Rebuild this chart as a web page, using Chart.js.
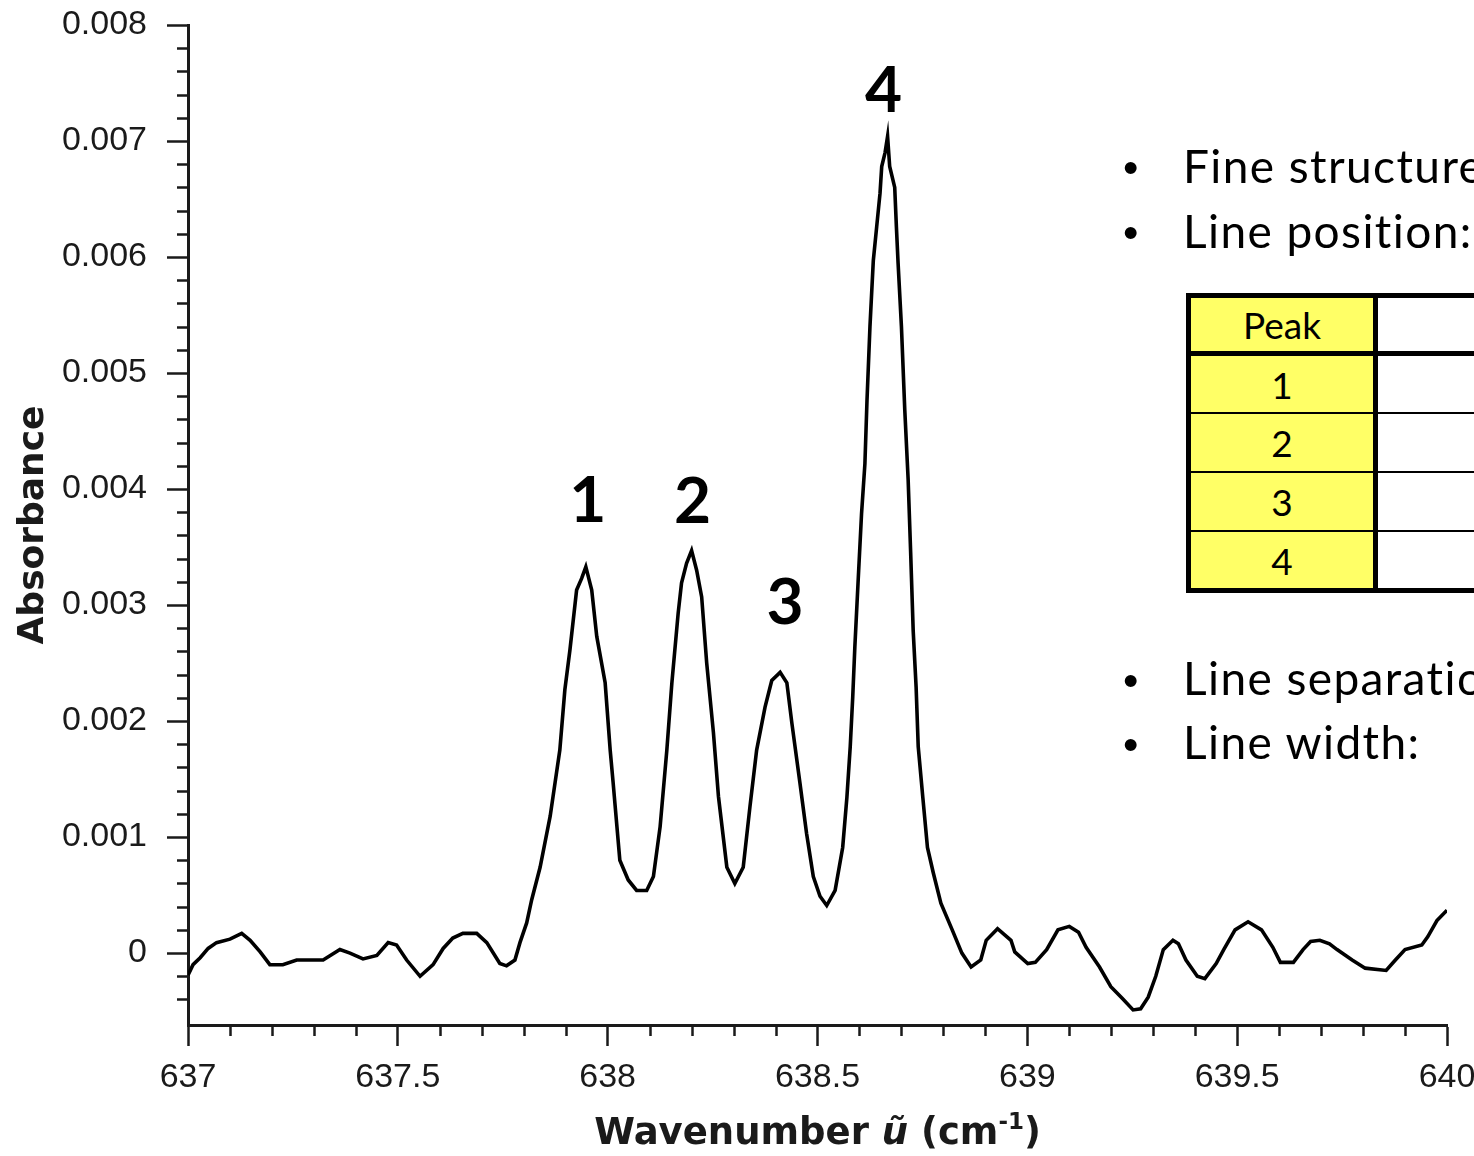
<!DOCTYPE html>
<html>
<head>
<meta charset="utf-8">
<script src="https://cdn.jsdelivr.net/npm/chart.js@4.4.1/dist/chart.umd.min.js"></script>
<style>
  html, body { margin: 0; padding: 0; background: #fff; width: 1474px; height: 1156px; overflow: hidden; }
  #slide { position: relative; width: 1474px; height: 1156px; overflow: hidden; background: #fff; }
  #spectrum { position: absolute; left: 0; top: 0; }
  .bullet, .point { position: absolute; white-space: nowrap; color: #000; line-height: 44px; }
  .bullet { font-family: Arial, "Liberation Sans", sans-serif; font-size: 44px; }
  .point { font-family: Lato, "Open Sans", sans-serif; font-size: 46px; letter-spacing: 1.4px; }
  #peaks { position: absolute; left: 1186px; top: 293px; border: 5px solid #000; width: 600px; background: #fff; }
  #peaks .row { display: flex; box-sizing: border-box; border-bottom: 2px solid #000; }
  #peaks .row.head { border-bottom-width: 5px; }
  #peaks .row:last-child { border-bottom: none; }
  #peaks .cell { box-sizing: border-box; width: 187px; border-right: 5px solid #000; background: #ffff66;
                 display: flex; align-items: center; justify-content: center;
                 font-family: Lato, "Open Sans", sans-serif; font-size: 37px; color: #000; }
  #peaks .blank { flex: 1; background: #fff; }
</style>
</head>
<body>
<div id="slide">
  <canvas id="spectrum" width="1474" height="1156"></canvas>

  <div class="bullet" style="left:1123px; top:146px;">•</div>
  <div class="point" style="left:1183px; top:144px;">Fine structure</div>
  <div class="bullet" style="left:1123px; top:211px;">•</div>
  <div class="point" style="left:1183px; top:209px;">Line position:</div>

  <div id="peaks">
    <div class="row head" style="height:58px;"><div class="cell">Peak</div><div class="blank"></div></div>
    <div class="row" style="height:58px;"><div class="cell">1</div><div class="blank"></div></div>
    <div class="row" style="height:59px;"><div class="cell">2</div><div class="blank"></div></div>
    <div class="row" style="height:59px;"><div class="cell">3</div><div class="blank"></div></div>
    <div class="row" style="height:56px;"><div class="cell">4</div><div class="blank"></div></div>
  </div>

  <div class="bullet" style="left:1123px; top:659px;">•</div>
  <div class="point" style="left:1183px; top:656px;">Line separation:</div>
  <div class="bullet" style="left:1123px; top:723px;">•</div>
  <div class="point" style="left:1183px; top:720px;">Line width:</div>
</div>

<script>
// Absorbance spectrum, 637-640 cm-1
const wavenumber = [
  637.000, 637.012, 637.029, 637.048, 637.068, 637.100, 637.128, 637.148, 637.172, 637.195,
  637.226, 637.259, 637.322, 637.362, 637.386, 637.417, 637.450, 637.477, 637.497, 637.521,
  637.553, 637.584, 637.608, 637.631, 637.655, 637.688, 637.712, 637.743, 637.759, 637.779,
  637.791, 637.807, 637.819, 637.839, 637.863, 637.886, 637.898, 637.910, 637.926, 637.938,
  637.948, 637.962, 637.974, 637.994, 638.006, 638.013, 638.029, 638.049, 638.069, 638.093,
  638.109, 638.125, 638.141, 638.153, 638.168, 638.176, 638.188, 638.200, 638.212, 638.224,
  638.236, 638.252, 638.264, 638.284, 638.303, 638.323, 638.339, 638.355, 638.375, 638.391,
  638.411, 638.427, 638.439, 638.458, 638.474, 638.490, 638.506, 638.522, 638.542, 638.560,
  638.570, 638.578, 638.584, 638.589, 638.597, 638.605, 638.613, 638.618, 638.625, 638.633,
  638.641, 638.649, 638.653, 638.661, 638.667, 638.672, 638.684, 638.688, 638.692, 638.700,
  638.708, 638.716, 638.722, 638.728, 638.735, 638.740, 638.751, 638.762, 638.776, 638.794,
  638.821, 638.844, 638.866, 638.889, 638.902, 638.929, 638.961, 638.970, 639.001, 639.019,
  639.046, 639.073, 639.100, 639.122, 639.140, 639.172, 639.199, 639.226, 639.252, 639.270,
  639.288, 639.306, 639.324, 639.347, 639.360, 639.378, 639.405, 639.423, 639.450, 639.468,
  639.495, 639.526, 639.558, 639.585, 639.603, 639.634, 639.657, 639.675, 639.697, 639.720,
  639.738, 639.774, 639.805, 639.855, 639.877, 639.900, 639.940, 639.954, 639.976, 640.000
];
const absorbance = [
  -0.00019, -0.00010, -0.00004, 0.00004, 0.00009, 0.00012, 0.00017, 0.00011, 0.00001, -0.00010,
  -0.00010, -0.00006, -0.00006, 0.00003, 0.00000, -0.00005, -0.00002, 0.00009, 0.00007, -0.00006,
  -0.00020, -0.00010, 0.00004, 0.00013, 0.00017, 0.00017, 0.00009, -0.00009, -0.00011, -0.00006,
  0.00009, 0.00026, 0.00046, 0.00074, 0.00118, 0.00175, 0.00227, 0.00261, 0.00313, 0.00323,
  0.00333, 0.00313, 0.00273, 0.00233, 0.00175, 0.00147, 0.00080, 0.00063, 0.00054, 0.00054,
  0.00066, 0.00109, 0.00175, 0.00233, 0.00293, 0.00319, 0.00336, 0.00347, 0.00330, 0.00307,
  0.00250, 0.00190, 0.00135, 0.00074, 0.00060, 0.00074, 0.00126, 0.00175, 0.00212, 0.00235,
  0.00242, 0.00233, 0.00198, 0.00147, 0.00103, 0.00066, 0.00049, 0.00041, 0.00054, 0.00091,
  0.00134, 0.00178, 0.00221, 0.00264, 0.00322, 0.00379, 0.00422, 0.00477, 0.00540, 0.00597,
  0.00626, 0.00655, 0.00678, 0.00690, 0.00704, 0.00678, 0.00660, 0.00626, 0.00595, 0.00540,
  0.00468, 0.00408, 0.00345, 0.00278, 0.00229, 0.00178, 0.00134, 0.00091, 0.00069, 0.00043,
  0.00020, 0.00000, -0.00012, -0.00006, 0.00011, 0.00021, 0.00011, 0.00001, -0.00009, -0.00008,
  0.00003, 0.00020, 0.00023, 0.00018, 0.00005, -0.00012, -0.00029, -0.00039, -0.00049, -0.00048,
  -0.00038, -0.00020, 0.00003, 0.00011, 0.00008, -0.00006, -0.00020, -0.00022, -0.00009, 0.00003,
  0.00020, 0.00027, 0.00020, 0.00005, -0.00008, -0.00008, 0.00003, 0.00010, 0.00011, 0.00008,
  0.00003, -0.00006, -0.00013, -0.00015, -0.00006, 0.00003, 0.00007, 0.00014, 0.00028, 0.00037
];

// Axis ticks (major, labelled) and minor tick spacing
const xTickValues = [637, 637.5, 638, 638.5, 639, 639.5, 640];
const yTickValues = [0, 0.001, 0.002, 0.003, 0.004, 0.005, 0.006, 0.007, 0.008];
const xMinorStep = 0.1;
const yMinorStep = 0.0002;
const xRange = [637, 640];
const yRange = [-0.00062, 0.008];

// Numbered peaks
const peakNames = ['1', '2', '3', '4'];
const peakCentres = [637.948, 638.200, 638.411, 638.667];

// Label placement relative to each peak top, in pixels
const peakLabelShift = [[2, -45], [1, -28], [5, -48], [-4, -24]];

const ink = '#1a1a1a';
const tickFont = { family: "Arial, 'Liberation Sans', sans-serif", size: 34 };

const minorTicks = {
  id: 'minorTicks',
  afterDraw(chart) {
    const { ctx } = chart;
    const xs = chart.scales.x, ys = chart.scales.y;
    ctx.save();
    ctx.strokeStyle = ink;
    ctx.lineWidth = 2.5;
    ctx.beginPath();
    const yLo = Math.ceil(yRange[0] / yMinorStep), yHi = Math.floor(yRange[1] / yMinorStep);
    for (let k = yLo; k <= yHi; k++) {
      const v = k * yMinorStep;
      if (yTickValues.some(t => Math.abs(t - v) < 1e-9)) continue;
      const py = Math.round(ys.getPixelForValue(v)) + 0.5;
      if (py > chart.chartArea.bottom - 4) continue;
      ctx.moveTo(ys.right - 11, py);
      ctx.lineTo(ys.right, py);
    }
    const xLo = Math.ceil(xRange[0] / xMinorStep - 1e-6), xHi = Math.floor(xRange[1] / xMinorStep + 1e-6);
    for (let k = xLo; k <= xHi; k++) {
      const v = k * xMinorStep;
      if (xTickValues.some(t => Math.abs(t - v) < 1e-6)) continue;
      const px = Math.round(xs.getPixelForValue(v)) + 0.5;
      ctx.moveTo(px, xs.top);
      ctx.lineTo(px, xs.top + 11);
    }
    ctx.stroke();
    ctx.restore();
  }
};

const peakLabels = {
  id: 'peakLabels',
  afterDatasetsDraw(chart) {
    const { ctx } = chart;
    const xs = chart.scales.x, ys = chart.scales.y;
    ctx.save();
    ctx.fillStyle = '#000';
    ctx.font = "bold 64px Lato, 'Open Sans', sans-serif";
    ctx.textAlign = 'center';
    ctx.textBaseline = 'alphabetic';
    peakNames.forEach((name, i) => {
      // top of the peak nearest the labelled centre
      let top = -Infinity;
      wavenumber.forEach((w, j) => {
        if (Math.abs(w - peakCentres[i]) < 0.02) top = Math.max(top, absorbance[j]);
      });
      const px = xs.getPixelForValue(peakCentres[i]) + peakLabelShift[i][0];
      const py = ys.getPixelForValue(top) + peakLabelShift[i][1];
      ctx.fillText(name, px, py);
    });
    ctx.restore();
  }
};

const xAxisTitle = {
  id: 'xAxisTitle',
  afterDraw(chart) {
    const { ctx, chartArea } = chart;
    const fam = "'DejaVu Sans', Verdana, sans-serif";
    const parts = [
      { t: 'Wavenumber ', f: `bold 37px ${fam}`, dy: 0 },
      { t: 'ũ', f: `italic bold 37px ${fam}`, dy: 0 },
      { t: ' (cm', f: `bold 37px ${fam}`, dy: 0 },
      { t: '-1', f: `bold 23px ${fam}`, dy: -15 },
      { t: ')', f: `bold 37px ${fam}`, dy: 0 }
    ];
    ctx.save();
    ctx.fillStyle = ink;
    ctx.textBaseline = 'alphabetic';
    ctx.textAlign = 'left';
    let total = 0;
    parts.forEach(p => { ctx.font = p.f; p.w = ctx.measureText(p.t).width; total += p.w; });
    let x = (chartArea.left + chartArea.right) / 2 - total / 2;
    const base = chart.height - 12;
    parts.forEach(p => { ctx.font = p.f; ctx.fillText(p.t, x, base + p.dy); x += p.w; });
    ctx.restore();
  }
};

new Chart(document.getElementById('spectrum'), {
  type: 'line',
  data: {
    datasets: [{
      label: 'Absorbance',
      data: wavenumber.map((w, i) => ({ x: w, y: absorbance[i] })),
      borderColor: '#000',
      borderWidth: 3.6,
      pointRadius: 0,
      tension: 0,
      fill: false
    }]
  },
  options: {
    responsive: false,
    animation: false,
    layout: { padding: { top: 25, right: 27, bottom: 0, left: 0 } },
    plugins: { legend: { display: false }, tooltip: { enabled: false } },
    scales: {
      x: {
        type: 'linear',
        min: xRange[0],
        max: xRange[1],
        afterBuildTicks: s => { s.ticks = xTickValues.map(v => ({ value: v })); },
        afterFit: s => { s.height = 131; s.paddingLeft = 0; s.paddingRight = 0; },
        border: { color: ink, width: 3 },
        grid: { drawOnChartArea: false, tickLength: 21, tickColor: ink, tickWidth: 2.5 },
        ticks: { color: ink, font: tickFont, padding: 11, maxRotation: 0, autoSkip: false,
                 callback: v => String(v) }
      },
      y: {
        type: 'linear',
        min: yRange[0],
        max: yRange[1],
        afterBuildTicks: s => { s.ticks = yTickValues.map(v => ({ value: v })); },
        afterFit: s => { s.width = 188; s.paddingTop = 0; s.paddingBottom = 0; },
        border: { color: ink, width: 3 },
        grid: { drawOnChartArea: false, tickLength: 21, tickColor: ink, tickWidth: 2.5 },
        ticks: { color: ink, font: tickFont, padding: 20, autoSkip: false,
                 callback: v => (v === 0 ? '0' : v.toFixed(3)) },
        title: { display: true, text: 'Absorbance', color: ink,
                 font: { family: "'DejaVu Sans', Verdana, sans-serif", weight: 'bold', size: 36 },
                 padding: { top: 12, bottom: 0 } }
      }
    }
  },
  plugins: [minorTicks, peakLabels, xAxisTitle]
});
</script>
</body>
</html>
